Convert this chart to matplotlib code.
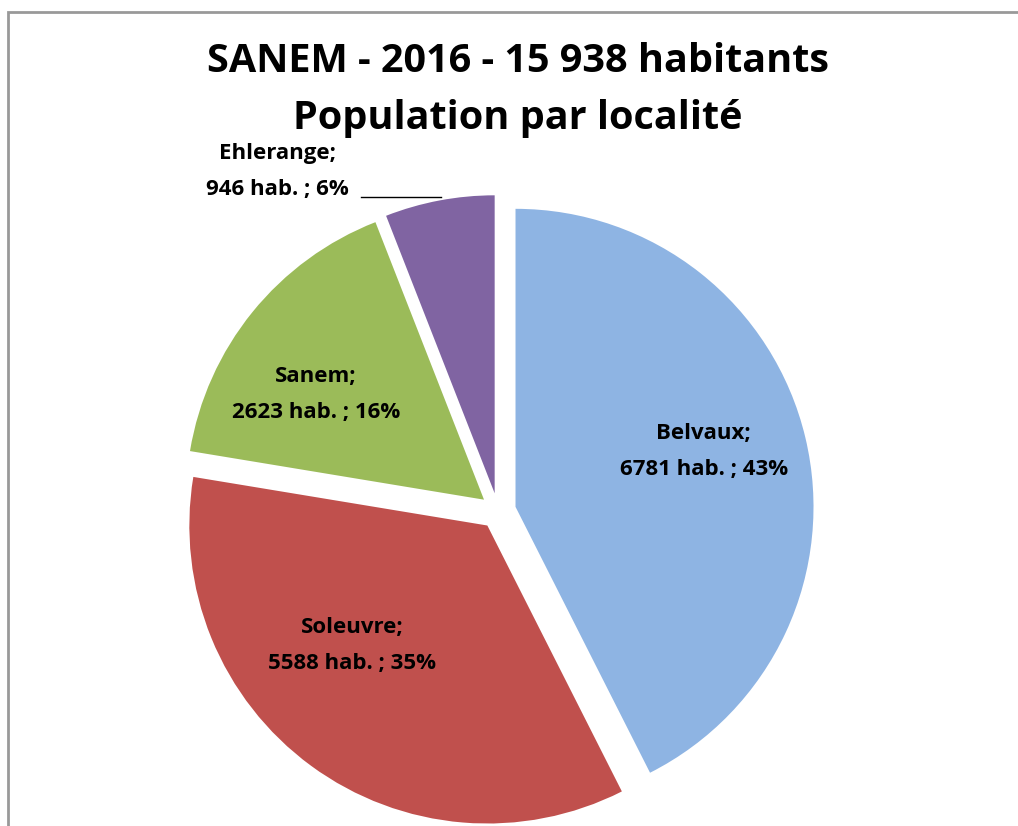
import matplotlib.pyplot as plt
from matplotlib.patches import Rectangle

plt.rcParams['font.family'] = ['Open Sans', 'DejaVu Sans']

# données
localites = ['Belvaux', 'Soleuvre', 'Sanem', 'Ehlerange']
habitants = [6781, 5588, 2623, 946]
pourcents = [43, 35, 16, 6]
couleurs = ['#8EB4E3', '#C0504D', '#9BBB59', '#8064A2']

W, H = 1018, 826
fig = plt.figure(figsize=(W / 100, H / 100), dpi=100)
ax = fig.add_axes([0, 0, 1, 1])

# centre et rayon du camembert (en pixels)
cx, cy, r = 498, H - 511, 298
ecart = 18  # éclatement des parts, en pixels

ax.pie(habitants, colors=couleurs, startangle=90, counterclock=False,
       explode=[ecart] * 4, center=(cx, cy), radius=r,
       wedgeprops=dict(linewidth=0), frame=True)
ax.set_xlim(0, W)
ax.set_ylim(0, H)
ax.set_aspect('equal')
ax.axis('off')

# position des étiquettes (fraction du rayon par rapport au centre)
pos_lab = [(0.69, 0.20), (-0.49, -0.45), (-0.61, 0.39), (-0.74, 1.14)]
for nom, n, p, (fx, fy) in zip(localites, habitants, pourcents, pos_lab):
    ax.text(cx + fx * r, cy + fy * r, f'{nom};\n{n} hab. ; {p}%',
            ha='center', va='center', fontsize=16, fontweight='bold',
            linespacing=1.95, color='black')

# ligne de rappel pour Ehlerange
ax.plot([cx - 0.46 * r, cx - 0.19 * r], [cy + 1.055 * r, cy + 1.055 * r],
        color='black', linewidth=1)

# titre
fig.text(518 / W, 1 - 62 / H, 'SANEM - 2016 - 15 938 habitants', ha='center', va='center',
         fontsize=28.5, fontweight='bold')
fig.text(518 / W, 1 - 119 / H, 'Population par localité', ha='center', va='center',
         fontsize=28.5, fontweight='bold')

# cadre du graphique
fig.patches.append(Rectangle((8 / W, -0.1), 1.2, 1 - 12 / H + 0.1, transform=fig.transFigure,
                             fill=False, edgecolor='#999999', linewidth=2))

fig.savefig('out.png', dpi=100)
